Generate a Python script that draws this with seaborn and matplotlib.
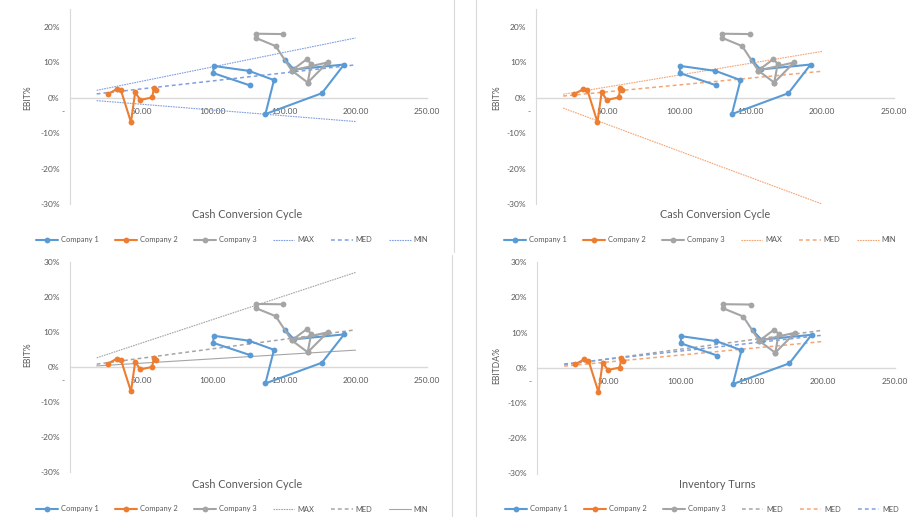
import numpy as np
import pandas as pd
import matplotlib
matplotlib.use("Agg")
import matplotlib.pyplot as plt
from matplotlib.lines import Line2D
from matplotlib.ticker import FuncFormatter, FixedLocator
import seaborn as sns

# ---- data -----------------------------------------------------------------
companies = ["Company 1", "Company 2", "Company 3"]

c1_x = [126.2, 100.4, 100.9, 125.5, 143.0, 137.0, 176.5, 192.0, 157.0, 150.8]
c1_y = [0.035, 0.070, 0.090, 0.076, 0.050, -0.046, 0.013, 0.094, 0.080, 0.107]

c2_x = [26.7, 33.2, 36.0, 43.0, 45.9, 49.6, 57.8, 59.0, 60.4]
c2_y = [0.010, 0.025, 0.021, -0.069, 0.015, -0.006, 0.001, 0.027, 0.021]

c3_x = [149.6, 130.4, 130.4, 144.2, 155.4, 165.9, 169.0, 166.6, 155.4, 180.5, 166.6]
c3_y = [0.180, 0.181, 0.169, 0.146, 0.077, 0.109, 0.096, 0.043, 0.077, 0.100, 0.043]

# benchmark lines (start / end)
band_x = [19.0, 200.0]
ccc_blue = {"MAX": [0.021, 0.169], "MED": [0.011, 0.093], "MIN": [-0.008, -0.067]}
ccc_orange = {"MAX": [0.010, 0.131], "MED": [0.005, 0.075], "MIN": [-0.029, -0.300]}
ccc_gray = {"MAX": [0.027, 0.271], "MED": [0.009, 0.107], "MIN": [0.004, 0.049]}

x_ticks = [0, 50, 100, 150, 200, 250]
x_tick_labels = ["-      ", "50.00", "100.00", "150.00", "200.00", "250.00"]

# ---- styling --------------------------------------------------------------
sns.set_theme(style="white")
plt.rcParams["font.family"] = ["Lato", "DejaVu Sans"]

BLUE = "#5B9BD5"
ORANGE = "#ED7D31"
GRAY = "#A5A5A5"
TXT = "#595959"
AXIS = "#D9D9D9"
LBLUE = "#7F9FE0"
LORANGE = "#F4A574"
pal = {"Company 1": BLUE, "Company 2": ORANGE, "Company 3": GRAY}

rows = []
for name, xs, ys in zip(companies, [c1_x, c2_x, c3_x], [c1_y, c2_y, c3_y]):
    for i, (a, b) in enumerate(zip(xs, ys)):
        rows.append({"company": name, "step": i, "x": a, "y": b})
df = pd.DataFrame(rows)

W, H = 913, 517
fig = plt.figure(figsize=(W / 100, H / 100), dpi=100)

LW = 1.5
MS = 4.2


def px_axes(x0, x1, ytop, ybot):
    return fig.add_axes([x0 / W, 1 - ybot / H, (x1 - x0) / W, (ybot - ytop) / H])


def style_axes(ax, ymax):
    ax.set_xlim(0, 250)
    ax.set_ylim(-0.30, ymax)
    for s in ["top", "right"]:
        ax.spines[s].set_visible(False)
    ax.spines["left"].set_color(AXIS)
    ax.spines["left"].set_linewidth(0.8)
    ax.spines["bottom"].set_position(("data", 0))
    ax.spines["bottom"].set_color(AXIS)
    ax.spines["bottom"].set_linewidth(1.0)
    ax.xaxis.set_major_locator(FixedLocator(x_ticks))
    ax.set_xticklabels(x_tick_labels)
    yt = np.arange(-0.30, ymax + 0.001, 0.10)
    ax.yaxis.set_major_locator(FixedLocator(yt))
    ax.yaxis.set_major_formatter(FuncFormatter(lambda v, p: f"{v * 100:.0f}%"))
    ax.tick_params(axis="both", length=0, labelsize=6.0, labelcolor=TXT)
    ax.tick_params(axis="x", pad=7)
    ax.tick_params(axis="y", pad=7)
    ax.set_xlabel("")
    ax.set_ylabel("")
    ax.grid(False)


def draw_companies(ax):
    sns.lineplot(data=df, x="x", y="y", hue="company", units="company",
                 estimator=None, sort=False, palette=pal, marker="o",
                 markersize=MS, markeredgewidth=0, linewidth=LW,
                 legend=False, ax=ax, zorder=3)


def draw_band(ax, value, color, style, lw):
    sns.lineplot(x=band_x, y=value, color=color, linestyle=style, linewidth=lw,
                 estimator=None, sort=False, legend=False, ax=ax, zorder=2)


def company_handles():
    return [Line2D([], [], color=pal[c], marker="o", markersize=MS,
                   markeredgewidth=0, linewidth=LW, label=c) for c in companies]


def add_legend(extra, cx, cy):
    hs = company_handles() + extra
    fig.legend(handles=hs, loc="center", bbox_to_anchor=(cx / W, 1 - cy / H),
               ncol=6, frameon=False, fontsize=5.4, handlelength=2.9,
               columnspacing=2.2, handletextpad=0.4, labelcolor=TXT)


DOT = (0, (1.5, 0.8))
DASH = (0, (2.5, 2.0))

panels = [
    dict(x0=69.5, x1=427, yt=9.3, yb=204, ymax=0.25, yl="EBIT%", xl="Cash Conversion Cycle",
         lcx=232, lcy=240, ylx=28, yly=98, xlx=247, xly=214),
    dict(x0=536, x1=893.5, yt=9.3, yb=204, ymax=0.25, yl="EBIT%", xl="Cash Conversion Cycle",
         lcx=700, lcy=240, ylx=497, yly=98, xlx=715, xly=214),
    dict(x0=69.5, x1=427, yt=262.3, yb=472.3, ymax=0.30, yl="EBIT%", xl="Cash Conversion Cycle",
         lcx=232, lcy=509, ylx=28, yly=355, xlx=247, xly=484),
    dict(x0=537, x1=894.5, yt=262.3, yb=473.5, ymax=0.30, yl="EBITDA%", xl="Inventory Turns",
         lcx=702, lcy=509, ylx=497, yly=365, xlx=717, xly=484),
]

axes = [px_axes(p["x0"], p["x1"], p["yt"], p["yb"]) for p in panels]

# Panel 1: CCC vs EBIT with the blue benchmark band
ax = axes[0]
draw_companies(ax)
draw_band(ax, ccc_blue["MAX"], LBLUE, DOT, 0.8)
draw_band(ax, ccc_blue["MED"], LBLUE, DASH, 1.1)
draw_band(ax, ccc_blue["MIN"], LBLUE, DOT, 0.8)
add_legend([Line2D([], [], color=LBLUE, ls=DOT, lw=0.8, label="MAX"),
            Line2D([], [], color=LBLUE, ls=DASH, lw=1.1, label="MED"),
            Line2D([], [], color=LBLUE, ls=DOT, lw=0.8, label="MIN")],
           panels[0]["lcx"], panels[0]["lcy"])

# Panel 2: orange benchmark band
ax = axes[1]
draw_companies(ax)
draw_band(ax, ccc_orange["MAX"], LORANGE, DOT, 0.8)
draw_band(ax, ccc_orange["MED"], LORANGE, DASH, 1.1)
draw_band(ax, ccc_orange["MIN"], LORANGE, DOT, 0.8)
add_legend([Line2D([], [], color=LORANGE, ls=DOT, lw=0.8, label="MAX"),
            Line2D([], [], color=LORANGE, ls=DASH, lw=1.1, label="MED"),
            Line2D([], [], color=LORANGE, ls=DOT, lw=0.8, label="MIN")],
           panels[1]["lcx"], panels[1]["lcy"])

# Panel 3: gray benchmark band
ax = axes[2]
draw_companies(ax)
draw_band(ax, ccc_gray["MAX"], GRAY, DOT, 0.8)
draw_band(ax, ccc_gray["MED"], GRAY, DASH, 1.1)
draw_band(ax, ccc_gray["MIN"], GRAY, "-", 0.8)
add_legend([Line2D([], [], color=GRAY, ls=DOT, lw=0.8, label="MAX"),
            Line2D([], [], color=GRAY, ls=DASH, lw=1.1, label="MED"),
            Line2D([], [], color=GRAY, ls="-", lw=0.8, label="MIN")],
           panels[2]["lcx"], panels[2]["lcy"])

# Panel 4: inventory turns vs EBITDA with the three medians
ax = axes[3]
draw_companies(ax)
draw_band(ax, ccc_gray["MED"], GRAY, DASH, 1.1)
draw_band(ax, ccc_orange["MED"], LORANGE, DASH, 1.1)
draw_band(ax, ccc_blue["MED"], LBLUE, DASH, 1.1)
add_legend([Line2D([], [], color=GRAY, ls=DASH, lw=1.1, label="MED"),
            Line2D([], [], color=LORANGE, ls=DASH, lw=1.1, label="MED"),
            Line2D([], [], color=LBLUE, ls=DASH, lw=1.1, label="MED")],
           panels[3]["lcx"], panels[3]["lcy"])

# axes styling after drawing, so seaborn's automatic labels are cleared
for ax, p in zip(axes, panels):
    style_axes(ax, p["ymax"])
    fig.text(p["ylx"] / W, 1 - p["yly"] / H, p["yl"], rotation=90, ha="center",
             va="center", fontsize=6.2, color=TXT)
    fig.text(p["xlx"] / W, 1 - p["xly"] / H, p["xl"], ha="center", va="center",
             fontsize=7.8, color=TXT)

# chart-area borders between the panels
for (x, y0, y1) in [(454, 0, 252), (452, 255, 517), (476, 0, 517)]:
    fig.add_artist(Line2D([x / W, x / W], [1 - y0 / H, 1 - y1 / H],
                          transform=fig.transFigure, color=AXIS, lw=0.8))

fig.savefig("out.png", dpi=100, facecolor="white")
